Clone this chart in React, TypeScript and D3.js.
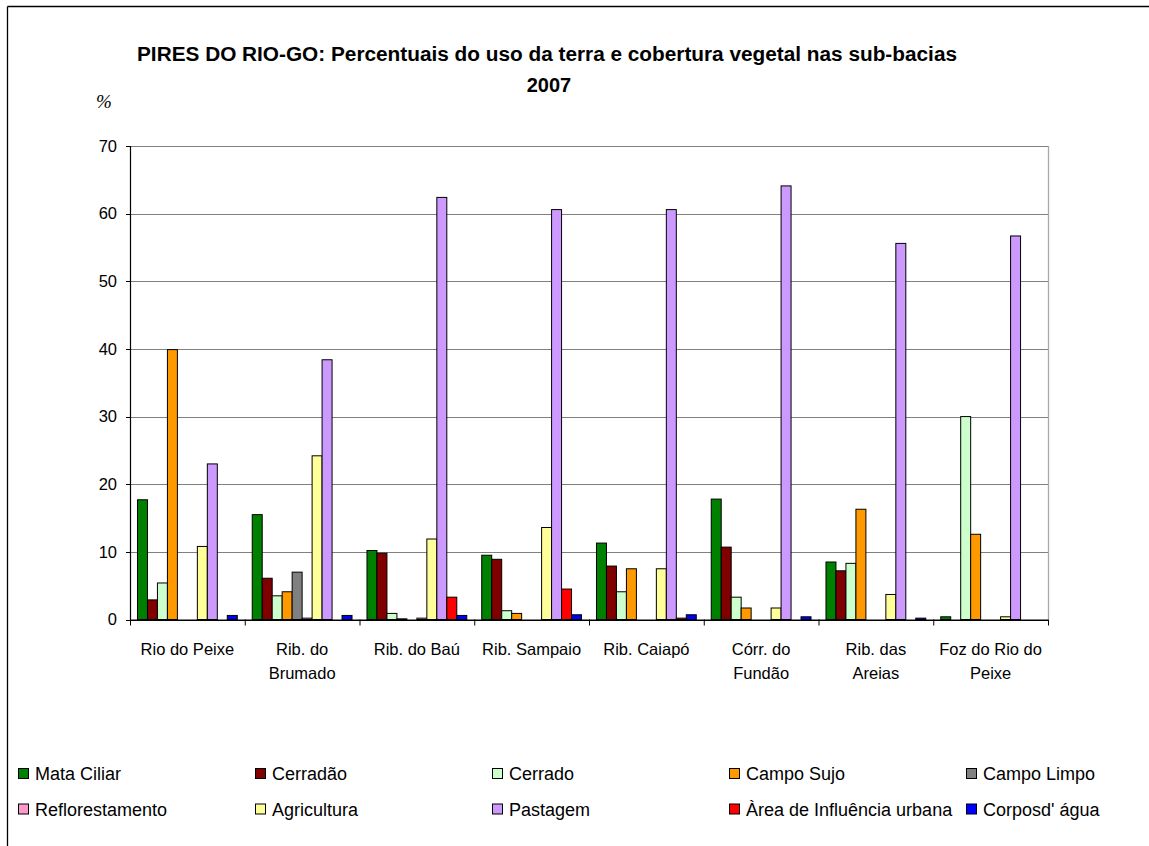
import React from "react";
import * as d3 from "d3";

const categories = [
  ["Rio do Peixe"],
  ["Rib. do", "Brumado"],
  ["Rib. do Baú"],
  ["Rib. Sampaio"],
  ["Rib. Caiapó"],
  ["Córr. do", "Fundão"],
  ["Rib. das", "Areias"],
  ["Foz do Rio do", "Peixe"],
];

const seriesNames = [
  "Mata Ciliar",
  "Cerradão",
  "Cerrado",
  "Campo Sujo",
  "Campo Limpo",
  "Reflorestamento",
  "Agricultura",
  "Pastagem",
  "Àrea de Influência urbana",
  "Corposd' água",
];

const seriesColors = [
  "#008000",
  "#800000",
  "#CCFFCC",
  "#FF9900",
  "#808080",
  "#FF99CC",
  "#FFFF99",
  "#CC99FF",
  "#FF0000",
  "#0000FF",
];

// values per series, one per category
const mataCiliar = [17.7, 15.5, 10.2, 9.5, 11.3, 17.8, 8.5, 0.4];
const cerradao = [2.9, 6.1, 9.8, 8.9, 7.9, 10.7, 7.2, 0];
const cerrado = [5.4, 3.5, 0.9, 1.3, 4.1, 3.3, 8.3, 30.0];
const campoSujo = [39.9, 4.1, 0.1, 0.9, 7.5, 1.7, 16.3, 12.6];
const campoLimpo = [0, 7.0, 0, 0, 0, 0, 0, 0];
const reflorestamento = [0, 0.2, 0.2, 0, 0, 0, 0, 0];
const agricultura = [10.8, 24.2, 11.9, 13.6, 7.5, 1.7, 3.7, 0.4];
const pastagem = [23.0, 38.4, 62.4, 60.6, 60.6, 64.1, 55.6, 56.7];
const areaUrbana = [0, 0, 3.3, 4.5, 0.2, 0, 0, 0];
const corposAgua = [0.6, 0.6, 0.6, 0.7, 0.7, 0.4, 0.2, 0];

const seriesValues = [
  mataCiliar,
  cerradao,
  cerrado,
  campoSujo,
  campoLimpo,
  reflorestamento,
  agricultura,
  pastagem,
  areaUrbana,
  corposAgua,
];

const yTicks = [0, 10, 20, 30, 40, 50, 60, 70];

const titleLine1 =
  "PIRES DO RIO-GO: Percentuais do uso da terra e cobertura vegetal nas sub-bacias";
const titleLine2 = "2007";

const FONT = "'Liberation Sans', Arial, sans-serif";

export default function App() {
  const W = 1149;
  const H = 846;
  const left = 130;
  const right = 1048;
  const top = 146;
  const bottom = 619.5;

  const catKeys = categories.map((c) => c.join(" "));
  const x = d3.scaleBand<string>().domain(catKeys).range([left, right]).padding(0);
  const inner = d3
    .scaleBand<string>()
    .domain(seriesNames)
    .range([0, x.bandwidth()])
    .paddingInner(0)
    .paddingOuter(0.75);
  const y = d3.scaleLinear().domain([0, 70]).range([bottom, top]);

  const legendX0 = 18;
  const legendColStep = 237;
  const legendRowY = [768, 803.5];

  return (
    <svg
      width={W}
      height={H}
      style={{ position: "absolute", left: 0, top: 0, background: "#fff" }}
      fontFamily={FONT}
    >
      <rect x={0} y={0} width={W} height={H} fill="#fff" />
      {/* outer frame */}
      <line x1={7.5} y1={6.5} x2={W} y2={6.5} stroke="#000" strokeWidth={1.3} />
      <line x1={7.5} y1={6.5} x2={7.5} y2={H} stroke="#000" strokeWidth={1.3} />

      {/* title */}
      <text
        x={547}
        y={61}
        textAnchor="middle"
        fontWeight="bold"
        fontSize={20}
        textLength={820}
        lengthAdjust="spacingAndGlyphs"
      >
        {titleLine1}
      </text>
      <text x={549} y={92} textAnchor="middle" fontWeight="bold" fontSize={20}>
        {titleLine2}
      </text>
      <text
        x={96}
        y={108}
        fontSize={19}
        fontStyle="italic"
        fontFamily="'Liberation Serif', 'DejaVu Serif', serif"
      >
        %
      </text>

      {/* gridlines */}
      {yTicks.map((t) => (
        <line
          key={"g" + t}
          x1={left}
          x2={right}
          y1={Math.round(y(t)) + 0.5}
          y2={Math.round(y(t)) + 0.5}
          stroke={t === 0 ? "#000" : "#808080"}
          strokeWidth={1.2}
        />
      ))}
      {/* right border */}
      <line x1={right + 0.5} x2={right + 0.5} y1={top} y2={bottom} stroke="#a8a8a8" strokeWidth={1.3} />

      {/* bars */}
      {seriesValues.map((vals, si) =>
        vals.map((v, ci) =>
          v > 0 ? (
            <rect
              key={si + "-" + ci}
              x={(x(catKeys[ci]) as number) + (inner(seriesNames[si]) as number)}
              y={y(v)}
              width={inner.bandwidth()}
              height={bottom - y(v)}
              fill={seriesColors[si]}
              stroke="#000"
              strokeWidth={1}
            />
          ) : null
        )
      )}

      {/* axes */}
      <line x1={left + 0.5} x2={left + 0.5} y1={top} y2={bottom + 1} stroke="#000" strokeWidth={1.2} />
      <line x1={left} x2={right} y1={bottom + 0.5} y2={bottom + 0.5} stroke="#000" strokeWidth={1.2} />
      {yTicks.map((t) => (
        <g key={"yt" + t}>
          <line
            x1={left - 4}
            x2={left}
            y1={Math.round(y(t)) + 0.5}
            y2={Math.round(y(t)) + 0.5}
            stroke="#000"
          />
          <text x={117} y={y(t) + 5.8} textAnchor="end" fontSize={16.5}>
            {t}
          </text>
        </g>
      ))}
      {catKeys.map((k, i) => (
        <line
          key={"xt" + i}
          x1={(x(k) as number) + 0.5}
          x2={(x(k) as number) + 0.5}
          y1={bottom}
          y2={bottom + 6}
          stroke="#000"
        />
      ))}
      <line x1={right + 0.5} x2={right + 0.5} y1={bottom} y2={bottom + 6} stroke="#000" />

      {categories.map((lines, i) => {
        const cx = (x(catKeys[i]) as number) + x.bandwidth() / 2;
        return (
          <text key={"xl" + i} textAnchor="middle" fontSize={16.5}>
            {lines.map((ln, j) => (
              <tspan key={j} x={cx} y={655 + j * 24}>
                {ln}
              </tspan>
            ))}
          </text>
        );
      })}

      {/* legend */}
      {seriesNames.map((name, i) => {
        const col = i % 5;
        const row = Math.floor(i / 5);
        const lx = legendX0 + col * legendColStep;
        const ly = legendRowY[row];
        return (
          <g key={"lg" + i}>
            <rect
              x={lx + 0.5}
              y={ly + 0.5}
              width={10}
              height={10}
              fill={seriesColors[i]}
              stroke="#000"
              strokeWidth={1}
            />
            <text x={lx + 17} y={ly + 12} fontSize={18}>
              {name}
            </text>
          </g>
        );
      })}
    </svg>
  );
}
